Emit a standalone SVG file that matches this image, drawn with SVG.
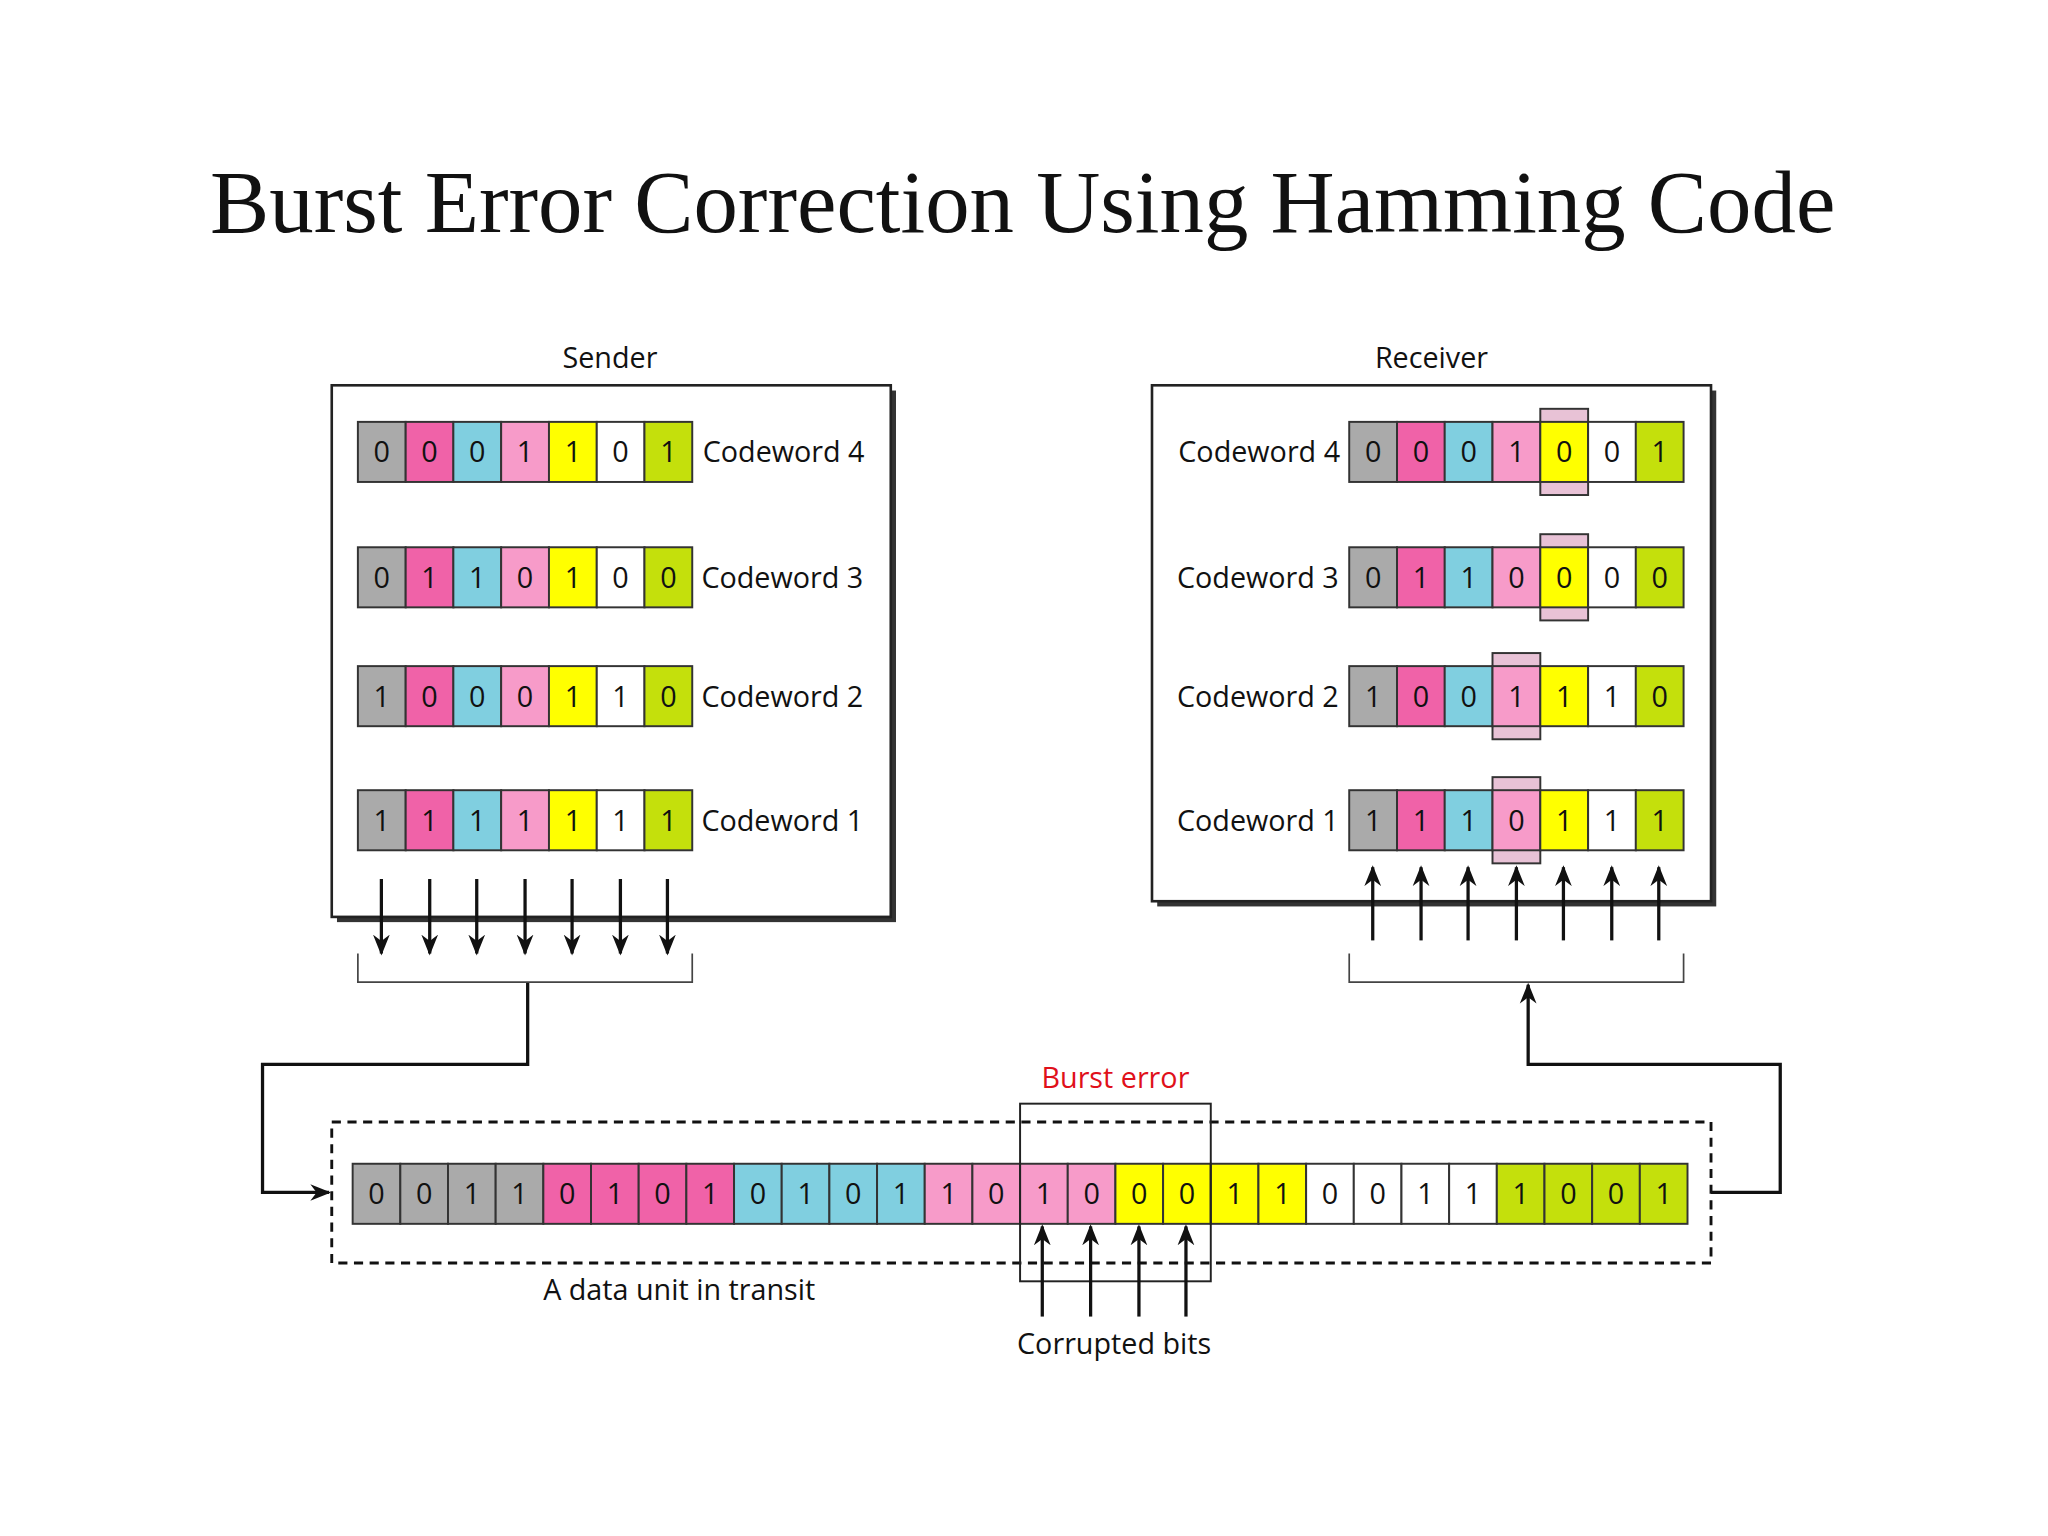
<svg xmlns="http://www.w3.org/2000/svg" width="2048" height="1536" viewBox="0 0 2048 1536">
<style>
.c{stroke:#333;stroke-width:1.5}
.g{fill:#aaaaaa}.m{fill:#f062a8}.cy{fill:#80cfe0}.p{fill:#f79bc9}.y{fill:#ffff00}.w{fill:#ffffff}.gr{fill:#c4e00c}
text{font-family:"Open Sans","Liberation Sans",sans-serif;font-size:22px;fill:#111}
.d{text-anchor:middle}
.ln{fill:none;stroke:#111;stroke-width:3}
.th{fill:none;stroke:#444;stroke-width:1.3}
.hl{fill:#e8c2d6;stroke:#333;stroke-width:1.5}
</style>
<defs>
<marker id="a" viewBox="0 0 10 10" refX="9" refY="5" markerWidth="5" markerHeight="5" orient="auto-start-reverse" markerUnits="userSpaceOnUse"><path d="M0,0 L10,5 L0,10 L3,5 z" fill="#111"/></marker>
<marker id="b" viewBox="0 0 10 10" refX="9" refY="5" markerWidth="16" markerHeight="16" orient="auto" markerUnits="userSpaceOnUse"><path d="M0,1 L10,5 L0,9 L3,5 z" fill="#111"/></marker>
</defs>
<rect width="2048" height="1536" fill="#fff"/>
<g transform="scale(1.30612)">
<text x="783" y="178" class="d" style="font-family:'Liberation Serif',serif;font-size:68px">Burst Error Correction Using Hamming Code</text>

<g id="sender">
<text x="467" y="282" class="d">Sender</text>
<rect x="258" y="299" width="428" height="407" fill="#333"/>
<rect x="254" y="295" width="428" height="407" fill="#fff" stroke="#222" stroke-width="2"/>
<g id="s4" transform="translate(274,323)">
<rect class="c g" x="0" width="36.6" height="46"/><rect class="c m" x="36.6" width="36.6" height="46"/><rect class="c cy" x="73.1" width="36.6" height="46"/><rect class="c p" x="109.7" width="36.6" height="46"/><rect class="c y" x="146.3" width="36.6" height="46"/><rect class="c w" x="182.9" width="36.6" height="46"/><rect class="c gr" x="219.4" width="36.6" height="46"/>
<text class="d" y="31"><tspan x="18.3">0</tspan><tspan x="54.9">0</tspan><tspan x="91.4">0</tspan><tspan x="128">1</tspan><tspan x="164.6">1</tspan><tspan x="201.1">0</tspan><tspan x="237.7">1</tspan></text>
<text x="264" y="31">Codeword 4</text></g>
<g id="s3" transform="translate(274,419)">
<rect class="c g" x="0" width="36.6" height="46"/><rect class="c m" x="36.6" width="36.6" height="46"/><rect class="c cy" x="73.1" width="36.6" height="46"/><rect class="c p" x="109.7" width="36.6" height="46"/><rect class="c y" x="146.3" width="36.6" height="46"/><rect class="c w" x="182.9" width="36.6" height="46"/><rect class="c gr" x="219.4" width="36.6" height="46"/>
<text class="d" y="31"><tspan x="18.3">0</tspan><tspan x="54.9">1</tspan><tspan x="91.4">1</tspan><tspan x="128">0</tspan><tspan x="164.6">1</tspan><tspan x="201.1">0</tspan><tspan x="237.7">0</tspan></text>
<text x="263" y="31">Codeword 3</text></g>
<g id="s2" transform="translate(274,510)">
<rect class="c g" x="0" width="36.6" height="46"/><rect class="c m" x="36.6" width="36.6" height="46"/><rect class="c cy" x="73.1" width="36.6" height="46"/><rect class="c p" x="109.7" width="36.6" height="46"/><rect class="c y" x="146.3" width="36.6" height="46"/><rect class="c w" x="182.9" width="36.6" height="46"/><rect class="c gr" x="219.4" width="36.6" height="46"/>
<text class="d" y="31"><tspan x="18.3">1</tspan><tspan x="54.9">0</tspan><tspan x="91.4">0</tspan><tspan x="128">0</tspan><tspan x="164.6">1</tspan><tspan x="201.1">1</tspan><tspan x="237.7">0</tspan></text>
<text x="263" y="31">Codeword 2</text></g>
<g id="s1" transform="translate(274,605)">
<rect class="c g" x="0" width="36.6" height="46"/><rect class="c m" x="36.6" width="36.6" height="46"/><rect class="c cy" x="73.1" width="36.6" height="46"/><rect class="c p" x="109.7" width="36.6" height="46"/><rect class="c y" x="146.3" width="36.6" height="46"/><rect class="c w" x="182.9" width="36.6" height="46"/><rect class="c gr" x="219.4" width="36.6" height="46"/>
<text class="d" y="31"><tspan x="18.3">1</tspan><tspan x="54.9">1</tspan><tspan x="91.4">1</tspan><tspan x="128">1</tspan><tspan x="164.6">1</tspan><tspan x="201.1">1</tspan><tspan x="237.7">1</tspan></text>
<text x="263" y="31">Codeword 1</text></g>
</g>

<g id="receiver">
<text x="1096" y="282" class="d">Receiver</text>
<rect x="886" y="299" width="428" height="395" fill="#333"/>
<rect x="882" y="295" width="428" height="395" fill="#fff" stroke="#222" stroke-width="2"/>
<g id="r4" transform="translate(1033,323)">
<rect class="hl" x="146.3" y="-10" width="36.6" height="66"/>
<rect class="c g" x="0" width="36.6" height="46"/><rect class="c m" x="36.6" width="36.6" height="46"/><rect class="c cy" x="73.1" width="36.6" height="46"/><rect class="c p" x="109.7" width="36.6" height="46"/><rect class="c y" x="146.3" width="36.6" height="46"/><rect class="c w" x="182.9" width="36.6" height="46"/><rect class="c gr" x="219.4" width="36.6" height="46"/>
<text class="d" y="31"><tspan x="18.3">0</tspan><tspan x="54.9">0</tspan><tspan x="91.4">0</tspan><tspan x="128">1</tspan><tspan x="164.6">0</tspan><tspan x="201.1">0</tspan><tspan x="237.7">1</tspan></text>
<text x="-7" y="31" text-anchor="end">Codeword 4</text></g>
<g id="r3" transform="translate(1033,419)">
<rect class="hl" x="146.3" y="-10" width="36.6" height="66"/>
<rect class="c g" x="0" width="36.6" height="46"/><rect class="c m" x="36.6" width="36.6" height="46"/><rect class="c cy" x="73.1" width="36.6" height="46"/><rect class="c p" x="109.7" width="36.6" height="46"/><rect class="c y" x="146.3" width="36.6" height="46"/><rect class="c w" x="182.9" width="36.6" height="46"/><rect class="c gr" x="219.4" width="36.6" height="46"/>
<text class="d" y="31"><tspan x="18.3">0</tspan><tspan x="54.9">1</tspan><tspan x="91.4">1</tspan><tspan x="128">0</tspan><tspan x="164.6">0</tspan><tspan x="201.1">0</tspan><tspan x="237.7">0</tspan></text>
<text x="-8" y="31" text-anchor="end">Codeword 3</text></g>
<g id="r2" transform="translate(1033,510)">
<rect class="hl" x="109.7" y="-10" width="36.6" height="66"/>
<rect class="c g" x="0" width="36.6" height="46"/><rect class="c m" x="36.6" width="36.6" height="46"/><rect class="c cy" x="73.1" width="36.6" height="46"/><rect class="c p" x="109.7" width="36.6" height="46"/><rect class="c y" x="146.3" width="36.6" height="46"/><rect class="c w" x="182.9" width="36.6" height="46"/><rect class="c gr" x="219.4" width="36.6" height="46"/>
<text class="d" y="31"><tspan x="18.3">1</tspan><tspan x="54.9">0</tspan><tspan x="91.4">0</tspan><tspan x="128">1</tspan><tspan x="164.6">1</tspan><tspan x="201.1">1</tspan><tspan x="237.7">0</tspan></text>
<text x="-8" y="31" text-anchor="end">Codeword 2</text></g>
<g id="r1" transform="translate(1033,605)">
<rect class="hl" x="109.7" y="-10" width="36.6" height="66"/>
<rect class="c g" x="0" width="36.6" height="46"/><rect class="c m" x="36.6" width="36.6" height="46"/><rect class="c cy" x="73.1" width="36.6" height="46"/><rect class="c p" x="109.7" width="36.6" height="46"/><rect class="c y" x="146.3" width="36.6" height="46"/><rect class="c w" x="182.9" width="36.6" height="46"/><rect class="c gr" x="219.4" width="36.6" height="46"/>
<text class="d" y="31"><tspan x="18.3">1</tspan><tspan x="54.9">1</tspan><tspan x="91.4">1</tspan><tspan x="128">0</tspan><tspan x="164.6">1</tspan><tspan x="201.1">1</tspan><tspan x="237.7">1</tspan></text>
<text x="-8" y="31" text-anchor="end">Codeword 1</text></g>
</g>

<g id="transit">
<rect x="254" y="859" width="1056" height="108" fill="none" stroke="#111" stroke-width="2.2" stroke-dasharray="7,5"/>
<g transform="translate(270,891)">
<rect class="c g" x="0" width="36.5" height="46"/><rect class="c g" x="36.5" width="36.5" height="46"/><rect class="c g" x="73" width="36.5" height="46"/><rect class="c g" x="109.5" width="36.5" height="46"/>
<rect class="c m" x="146" width="36.5" height="46"/><rect class="c m" x="182.5" width="36.5" height="46"/><rect class="c m" x="219" width="36.5" height="46"/><rect class="c m" x="255.5" width="36.5" height="46"/>
<rect class="c cy" x="292" width="36.5" height="46"/><rect class="c cy" x="328.5" width="36.5" height="46"/><rect class="c cy" x="365" width="36.5" height="46"/><rect class="c cy" x="401.5" width="36.5" height="46"/>
<rect class="c p" x="438" width="36.5" height="46"/><rect class="c p" x="474.5" width="36.5" height="46"/><rect class="c p" x="511" width="36.5" height="46"/><rect class="c p" x="547.5" width="36.5" height="46"/>
<rect class="c y" x="584" width="36.5" height="46"/><rect class="c y" x="620.5" width="36.5" height="46"/><rect class="c y" x="657" width="36.5" height="46"/><rect class="c y" x="693.5" width="36.5" height="46"/>
<rect class="c w" x="730" width="36.5" height="46"/><rect class="c w" x="766.5" width="36.5" height="46"/><rect class="c w" x="803" width="36.5" height="46"/><rect class="c w" x="839.5" width="36.5" height="46"/>
<rect class="c gr" x="876" width="36.5" height="46"/><rect class="c gr" x="912.5" width="36.5" height="46"/><rect class="c gr" x="949" width="36.5" height="46"/><rect class="c gr" x="985.5" width="36.5" height="46"/>
<text class="d" y="31"><tspan x="18.3">0</tspan><tspan x="54.8">0</tspan><tspan x="91.3">1</tspan><tspan x="127.8">1</tspan><tspan x="164.3">0</tspan><tspan x="200.8">1</tspan><tspan x="237.3">0</tspan><tspan x="273.8">1</tspan><tspan x="310.3">0</tspan><tspan x="346.8">1</tspan><tspan x="383.3">0</tspan><tspan x="419.8">1</tspan><tspan x="456.3">1</tspan><tspan x="492.8">0</tspan><tspan x="529.3">1</tspan><tspan x="565.8">0</tspan><tspan x="602.3">0</tspan><tspan x="638.8">0</tspan><tspan x="675.3">1</tspan><tspan x="711.8">1</tspan><tspan x="748.3">0</tspan><tspan x="784.8">0</tspan><tspan x="821.3">1</tspan><tspan x="857.8">1</tspan><tspan x="894.3">1</tspan><tspan x="930.8">0</tspan><tspan x="967.3">0</tspan><tspan x="1003.8">1</tspan></text>
</g>
<text x="520" y="995" class="d">A data unit in transit</text>
</g>

<g id="burst">
<rect x="781" y="845" width="146" height="136" fill="none" stroke="#222" stroke-width="1.5"/>
<text x="854" y="833" class="d" style="fill:#e0101a">Burst error</text>
<text x="853" y="1037" class="d">Corrupted bits</text>
</g>

<g id="connectors">
<g class="ln" style="stroke-width:2.5" marker-end="url(#b)">
<path d="M292,673V730"/><path d="M329,673V730"/><path d="M365,673V730"/><path d="M402,673V730"/><path d="M438,673V730"/><path d="M475,673V730"/><path d="M511,673V730"/>
<path d="M1051,720V664"/><path d="M1088,720V664"/><path d="M1124,720V664"/><path d="M1161,720V664"/><path d="M1197,720V664"/><path d="M1234,720V664"/><path d="M1270,720V664"/>
<path d="M798,1008V939"/><path d="M835,1008V939"/><path d="M872,1008V939"/><path d="M908,1008V939"/>
<path d="M404,752V815H201V913H252"/>
<path d="M1310,913H1363V815H1170V754"/>
</g>
<path class="th" d="M274,730V752H530V730"/>
<path class="th" d="M1033,730V752H1289V730"/>
</g>
</g>
</svg>
